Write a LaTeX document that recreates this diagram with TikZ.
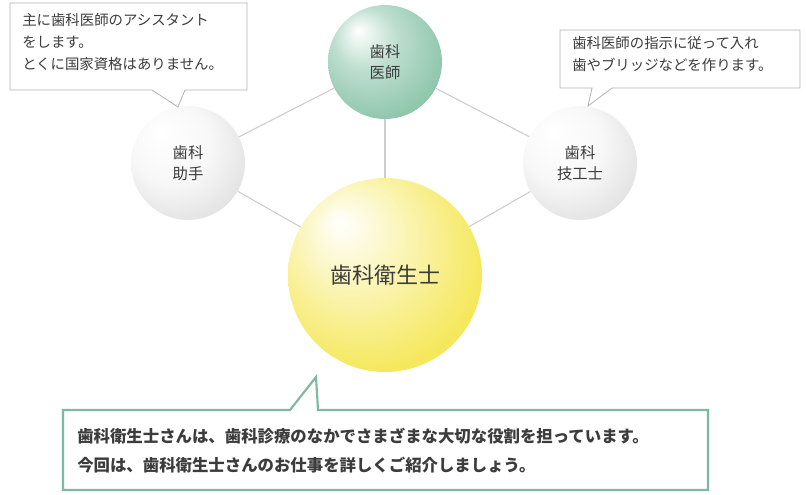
\documentclass[tikz,border=0pt]{standalone}
\usepackage{fontspec}
\setmainfont{Noto Sans CJK JP}
\usepackage{tikz}

\definecolor{dentgreen}{HTML}{6DB593}
\definecolor{dentgray}{HTML}{DADADA}
\definecolor{dentyellow}{HTML}{F2E12A}
\definecolor{boxgreen}{HTML}{7DB9A0}
\definecolor{txt}{HTML}{3C3C3C}
\pgfdeclareradialshading{greenball}{\pgfpoint{-12bp}{14bp}}{color(0bp)=(white); color(14bp)=(dentgreen!45); color(38bp)=(dentgreen!90); color(50bp)=(dentgreen!70)}
\pgfdeclareradialshading{grayball}{\pgfpoint{-12bp}{14bp}}{color(0bp)=(white); color(18bp)=(white!97!black); color(38bp)=(dentgray); color(50bp)=(dentgray!80)}
\pgfdeclareradialshading{yellowball}{\pgfpoint{-12bp}{14bp}}{color(0bp)=(white); color(16bp)=(dentyellow!40); color(40bp)=(dentyellow); color(50bp)=(dentyellow!85)}

\tikzset{
  ball/.style = {circle, minimum size=#1, inner sep=0pt, text=txt, align=center, font=\fontsize{11.5}{15.5}\selectfont},
  link/.style = {draw=black!20, line width=0.8pt},
  balloon/.style = {draw=black!30, fill=white, line width=0.6pt},
  note/.style = {anchor=north west, align=left, inner sep=0pt, text=txt, font=\fontsize{10.8}{16.5}\selectfont}
}

\begin{document}
\begin{tikzpicture}[x=0.75pt, y=-0.75pt]
        \useasboundingbox (0,0) rectangle (806,494);

        % balls
        \node[ball=85.5pt, shading=greenball] (dds) at (385,62) {歯科\\医師};
        \node[ball=85.5pt, shading=grayball] (da) at (188,163) {歯科\\助手};
        \node[ball=85.5pt, shading=grayball] (dt) at (580,163) {歯科\\技工士};
        \node[ball=145.5pt, shading=yellowball, font=\fontsize{16.5}{20}\selectfont] (dh) at (385,275) {歯科衛生士};

        \draw[link] (dds) -- (da);
        \draw[link] (dds) -- (dt);
        \draw[link] (dds) -- (dh);
        \draw[link] (da) -- (dh);
        \draw[link] (dt) -- (dh);

        % callouts
        \draw[balloon] (10,3) -- (247,3) -- (247,90) -- (185,90) -- (178,107) -- (152,90) -- (10,90) -- cycle;
        \node[note] (danote) at (22,13) {主に歯科医師のアシスタント\\をします。\\とくに国家資格はありません。};

        \draw[balloon] (560,30) -- (800,30) -- (800,88) -- (612,88) -- (588,106) -- (592,88) -- (560,88) -- cycle;
        \node[note] (dtnote) at (572,36) {歯科医師の指示に従って入れ\\歯やブリッジなどを作ります。};

        \draw[draw=boxgreen, fill=white, line width=1.6pt] (63,410) -- (290,410) -- (316,377) -- (318,410) -- (708,410) -- (708,490) -- (63,490) -- cycle;
        \node[note, font=\bfseries\fontsize{12.3}{21.5}\selectfont] (dhnote) at (77,428) {歯科衛生士さんは、歯科診療のなかでさまざまな大切な役割を担っています。\\今回は、歯科衛生士さんのお仕事を詳しくご紹介しましょう。};
\end{tikzpicture}
\end{document}
